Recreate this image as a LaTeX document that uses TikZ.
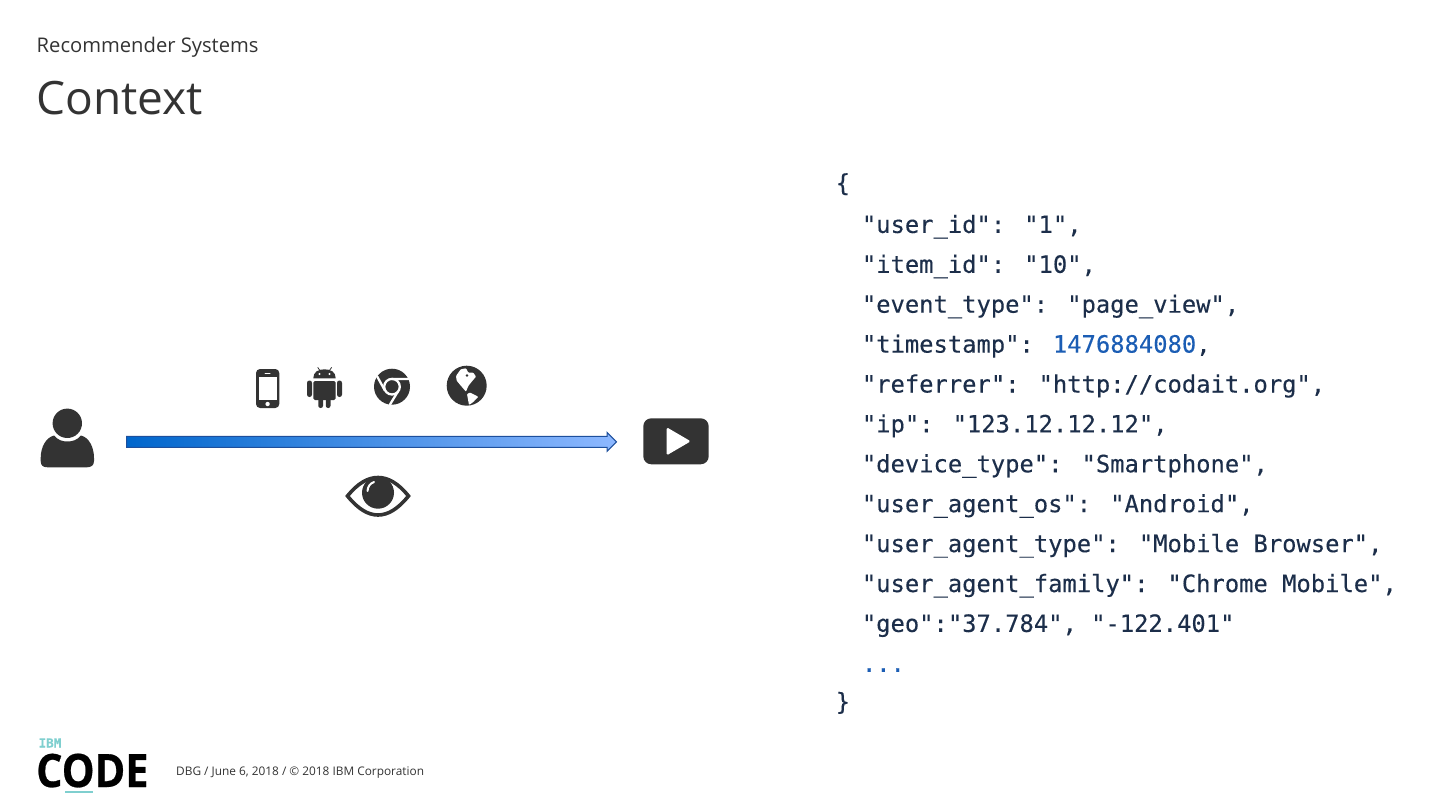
\documentclass[tikz,border=0pt]{standalone}
\usepackage{fontspec}
\setmainfont{Open Sans}
\newfontfamily\jsonfont[FakeBold=0.25]{DejaVu Sans Mono}
\newfontfamily\logofont[FakeBold=0.6]{Open Sans Bold}
\usepackage{xcolor}
\definecolor{ink}{HTML}{333333}
\definecolor{navy}{HTML}{1C2E4A}
\definecolor{numblue}{HTML}{1B5DB4}
\definecolor{teal}{HTML}{7FCFCF}
\definecolor{flowdark}{HTML}{0066CC}
\definecolor{flowlight}{HTML}{8DB8FF}
\definecolor{flowline}{HTML}{1D4F9C}
\usetikzlibrary{shapes.arrows}
\tikzset{
  every node/.append style={inner sep=0pt},
  label/.style={anchor=base west, text=#1},
  label/.default=ink,
  jsonline/.style={label=navy, font=\jsonfont\fontsize{23.8}{30}\selectfont},
  glyph/.style={fill=ink, draw=none},
  cutout/.style={draw=white, line width=#1, line cap=round},
  cutout/.default=2.3pt,
  flowarrow/.style={single arrow, single arrow head extend=4pt, minimum width=18pt, minimum height=490pt,
    inner sep=5pt, draw=flowline, line width=1pt, left color=flowdark, right color=flowlight},
  playbox/.style={fill=ink, rounded corners=8pt, minimum width=65.4pt, minimum height=46pt},
}
\newcommand{\pad}{\hspace*{26.2pt}}
\newcommand{\lift}[1]{\raisebox{1.7pt}{#1}}
\newcommand{\num}[1]{\textcolor{numblue}{#1}}

\begin{document}
\begin{tikzpicture}[x=1pt, y=-1pt]
  \useasboundingbox (0,0) rectangle (1440,810);
  % heading
  \node[label, font=\fontsize{20.2}{24}\selectfont] (section) at (36.5,52.7) {Recommender Systems};
  \node[label, font=\fontsize{46}{54}\selectfont] (title) at (36,115) {Context};

  % user
  \fill[glyph] (67.3,423.3) circle (14.7);
  \fill[glyph] (40.7,458) .. controls (40.7,447) and (46,437.5) .. (54,435.5) .. controls (58,440) and (62,441.5) .. (67.3,441.5)
    .. controls (73,441.5) and (77,440) .. (81,435.5) .. controls (89,437.5) and (94,447) .. (94,458) -- (94,461)
    .. controls (94,465.5) and (91,467.3) .. (87,467.3) -- (47.7,467.3) .. controls (43,467.3) and (40.7,465.5) .. (40.7,461) -- cycle;

  % phone
  \fill[glyph, rounded corners=4pt] (256,369) rectangle (279.3,408);
  \fill[white] (259,376.7) rectangle (276.7,400);
  \draw[cutout=1pt] (265,373) -- (270,373);
  \fill[white] (267.6,404) circle (2.2);

  % android
  \fill[glyph] (313.3,378.3) .. controls (313.3,372) and (318,369.3) .. (324.5,369.3) .. controls (331,369.3) and (335.7,372) .. (335.7,378.3) -- cycle;
  \draw[ink, line width=0.8pt] (317.7,367.3) -- (320,370.7) (331.7,367.3) -- (329.3,370.7);
  \fill[white] (319.5,374) circle (1.1) (329.5,374) circle (1.1);
  \fill[glyph, rounded corners=1.5pt] (313.3,381) rectangle (335.7,400);
  \fill[glyph, rounded corners=2.4pt] (307,380.5) rectangle (312,397) (337,380.5) rectangle (342,397);
  \fill[glyph, rounded corners=2.2pt] (318.3,396) rectangle (323,408) (325.8,396) rectangle (330.5,408);

  % chrome
  \fill[glyph] (392,386.7) circle (18);
  \draw[cutout] (392,386.7) circle (7.8);
  \draw[cutout] (392,378.9) -- (409.5,378.9) (384.9,390.5) -- (377.3,376.7) (397.6,392) -- (390,404.5);

  % globe
  \fill[glyph] (466.7,385.7) circle (20);
  \fill[white, rounded corners=0.8pt] (456,376) -- (460.7,369.3) -- (466,368.3) -- (468.3,372.7) -- (473.3,372.7) -- (476,376.7) -- (471.7,381.7) -- (468.3,386) -- (466,391.7) -- (461.7,386.7) -- (456.7,380.7) -- cycle;
  \fill[white, rounded corners=0.8pt] (467,394) -- (470,392.5) -- (478.3,396.7) -- (473.3,402) -- (469,405) -- cycle;
  \fill[glyph] (467,375.5) circle (1.3);

  % flow
  \node[flowarrow, anchor=tail] (flow) at (126,441.8) {};
  \node[playbox] (player) at (676,441.3) {};
  \fill[white, rounded corners=1.5pt] (666.7,427.3) -- (690.7,441.3) -- (666.7,455.3) -- cycle;

  % eye
  \draw[ink, line width=3.6pt] (347.5,496) .. controls (358,483) and (368,477.5) .. (378,477.5) .. controls (388,477.5) and (398,483) .. (408.5,496)
    .. controls (398,509) and (388,515) .. (378,515) .. controls (368,515) and (358,509) .. (347.5,496) -- cycle;
  \fill[glyph] (378,492.7) circle (16);
  \draw[cutout=2pt] (367.5,491) .. controls (367.8,486.5) and (370,483.5) .. (374,482);

  % event payload
  \foreach \jsonrow [count=\n from 0] in {
      \lift{\{},
      {\pad"user\_id": "1",},
      {\pad"item\_id": "10",},
      {\pad"event\_type": "page\_view",},
      {\pad"timestamp": \num{1476884080},},
      {\pad"referrer": "http://codait.org",},
      {\pad"ip": "123.12.12.12",},
      {\pad"device\_type": "Smartphone",},
      {\pad"user\_agent\_os": "Android",},
      {\pad"user\_agent\_type": "Mobile Browser",},
      {\pad"user\_agent\_family": "Chrome Mobile",},
      {\pad"geo":"37.784", "-122.401"},
      {\pad\num{...}},
      \lift{\}}}
    \node[jsonline] (row\n) at (835.5,193+39.9*\n) {\jsonrow};

  % footer
  \node[label=teal, font=\jsonfont\bfseries\fontsize{12.5}{14}\selectfont] (brand) at (38.5,747.5) {IBM};
  \node[label=black, font=\logofont\fontsize{46}{50}\selectfont, xscale=0.9, transform shape] (logo) at (36,787) {CODE};
  \draw[teal, line width=2pt] (65,791.8) -- (92.7,791.8);
  \node[label, font=\fontsize{11.85}{14}\selectfont] (credit) at (176,775) {DBG / June 6, 2018 / © 2018 IBM Corporation};
\end{tikzpicture}
\end{document}
